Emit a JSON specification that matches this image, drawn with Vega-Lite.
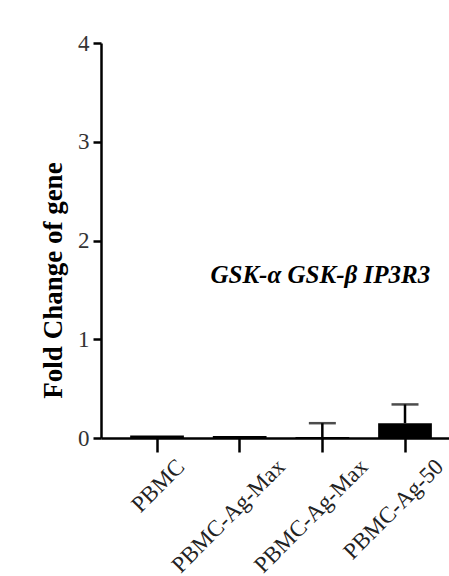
{
  "$schema": "https://vega.github.io/schema/vega-lite/v6.json",
  "width": 348,
  "height": 395,
  "autosize": "none",
  "padding": {"left": 101, "top": 43, "right": 0, "bottom": 138},
  "background": "white",
  "config": {"view": {"stroke": null}, "font": "Liberation Serif"},
  "datasets": {
    "bars": [
      {"id": 1, "group": "PBMC", "value": 0.025},
      {"id": 2, "group": "PBMC-Ag-Max", "value": 0.02},
      {"id": 3, "group": "PBMC-Ag-Max", "value": 0.01},
      {"id": 4, "group": "PBMC-Ag-50", "value": 0.15}
    ],
    "errs": [
      {"id": 3, "value": 0.01, "upper": 0.15},
      {"id": 4, "value": 0.15, "upper": 0.34}
    ],
    "note": [
      {"id": 3, "y": 1.65, "label": "GSK-α GSK-β IP3R3"}
    ]
  },
  "encoding": {
    "x": {
      "field": "id",
      "type": "ordinal",
      "scale": {"domain": [1, 2, 3, 4], "paddingInner": 0.35, "paddingOuter": 0.28, "align": 0.63},
      "axis": {
        "title": null,
        "labelExpr": "['','PBMC','PBMC-Ag-Max','PBMC-Ag-Max','PBMC-Ag-50'][datum.value]",
        "labelAngle": -45,
        "labelFont": "Liberation Serif",
        "labelFontSize": 23,
        "labelColor": "#222",
        "labelOffset": {"condition": [{"test": "datum.value == 1", "value": 16}, {"test": "datum.value == 4", "value": 27}], "value": 34},
        "labelPadding": 3,
        "domainColor": "black",
        "domainWidth": 2.5,
        "tickColor": "black",
        "tickWidth": 2.5,
        "tickSize": 14,
        "grid": false
      }
    }
  },
  "layer": [
    {
      "data": {"name": "bars"},
      "mark": {"type": "bar", "color": "black"},
      "encoding": {
        "y": {
          "field": "value",
          "type": "quantitative",
          "scale": {"domain": [0, 4], "nice": false},
          "axis": {
            "title": "Fold Change of gene",
            "titleFont": "Liberation Serif",
            "titleFontSize": 27,
            "titleFontWeight": "bold",
            "titleColor": "black",
            "titleY": 237,
            "titlePadding": 10,
            "values": [0, 1, 2, 3, 4],
            "format": "d",
            "labelFont": "Liberation Serif",
            "labelFontSize": 23,
            "labelColor": "#333",
            "labelPadding": 4,
            "domainColor": "black",
            "domainWidth": 2.5,
            "tickColor": "black",
            "tickWidth": 2.5,
            "tickSize": 8,
            "grid": false
          }
        }
      }
    },
    {
      "data": {"name": "errs"},
      "mark": {"type": "rule", "color": "black", "strokeWidth": 2.5},
      "encoding": {
        "y": {"field": "value", "type": "quantitative"},
        "y2": {"field": "upper"}
      }
    },
    {
      "data": {"name": "errs"},
      "mark": {"type": "tick", "color": "black", "thickness": 2.5, "size": 27},
      "encoding": {
        "y": {"field": "upper", "type": "quantitative"}
      }
    },
    {
      "data": {"name": "note"},
      "mark": {"type": "text", "font": "Liberation Serif", "fontSize": 25, "fontWeight": "bold", "fontStyle": "italic", "color": "black", "dx": -2},
      "encoding": {
        "y": {"field": "y", "type": "quantitative"},
        "text": {"field": "label"}
      }
    }
  ]
}
